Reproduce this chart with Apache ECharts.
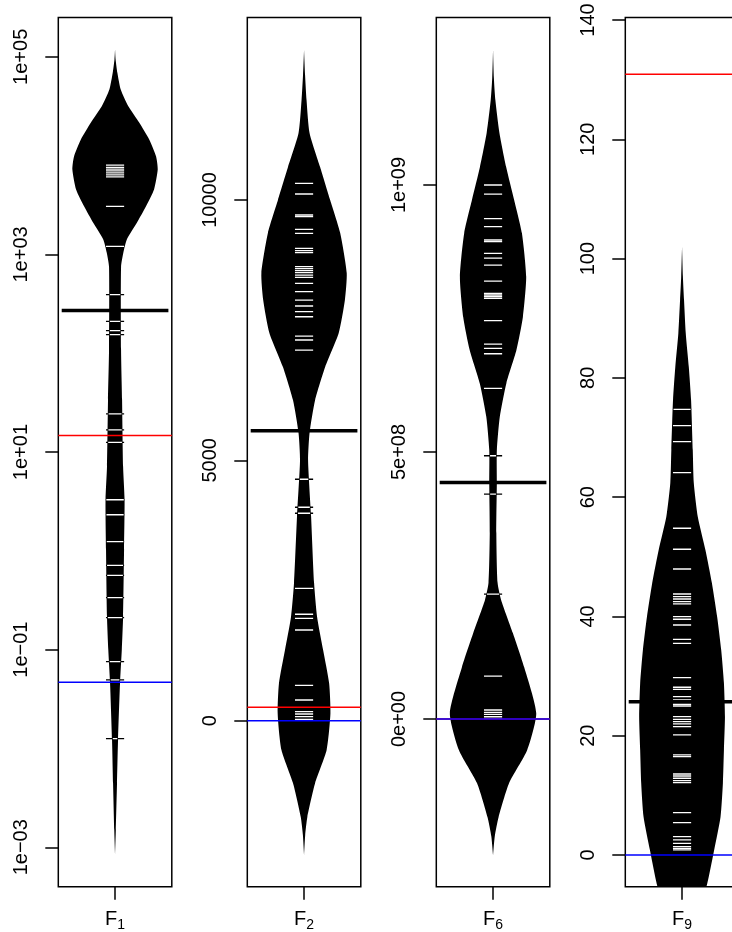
<!DOCTYPE html>
<html><head><meta charset="utf-8">
<script src="https://cdn.jsdelivr.net/npm/echarts@6/dist/echarts.min.js"></script>
<style>html,body{margin:0;padding:0;background:#fff}#c{width:732px;height:932px}</style>
</head><body><div id="c"></div><script>
// ---------- categories ----------
const categoryMain = ['F', 'F', 'F', 'F'];
const categorySub = ['1', '2', '6', '9'];

// ---------- F1 (log scale) ----------
// outline: [value, half-width of bean in box half-widths]
const f1Outline = [[118600,0],[94000,0.01],[68800,0.041],[46700,0.100],[31600,0.234],[21500,0.428],[14500,0.604],[9840,0.722],[7230,0.752],[4540,0.687],[3070,0.546],[2080,0.382],[1410,0.206],[1043,0.146],[752,0.106],[108,0.106],[33.8,0.124],[7.08,0.142],[3.29,0.168],[1.03,0.159],[0.215,0.142],[0.0995,0.119],[0.0461,0.088],[0.0122,0.053],[0.00448,0.035],[0.0015,0.014],[0.000836,0]];
const f1Values = [8000,7600,7300,7000,6700,6400,6100,3070,1208,392,210,169,154,24.3,16.8,12.5,3.29,2.32,1.24,0.714,0.565,0.337,0.211,0.0757,0.0494,0.0126];
const f1Mean = 270;
const f1Red = 14.7;
const f1Blue = 0.0469;
const f1Ticks = [1e-3, 1e-1, 1e1, 1e3, 1e5];
const f1TickLabels = ['1e\u221203', '1e\u221201', '1e+01', '1e+03', '1e+05'];
const f1Range = [3.99e-4, 2.5e5];

// ---------- F2 ----------
const f2Outline = [[12882,0],[12400,0.018],[11921,0.044],[11287,0.097],[10634,0.283],[10000,0.460],[9366,0.637],[8598,0.752],[8079,0.720],[7446,0.611],[6792,0.372],[6158,0.195],[5524,0.097],[5000,0.071],[3925,0.124],[2645,0.177],[1993,0.230],[1357,0.336],[718,0.442],[141,0.465],[-563,0.398],[-1197,0.195],[-1850,0.058],[-2200,0.02],[-2580,0]];
const f2Values = [10320,10115,9712,9680,9437,9360,9072,9026,8988,8719,8681,8642,8604,8559,8515,8400,8239,8079,7964,7855,7758,7387,7311,7118,4637,4099,3984,2543,2044,1967,1742,680,398,173,129,77,27];
const f2Mean = 5570;
const f2Red = 257;
const f2Blue = 0;
const f2Ticks = [0, 5000, 10000];
const f2TickLabels = ['0', '5000', '10000'];
const f2Range = [-3188, 13505];

// ---------- F6 ----------
const f6Outline = [[1.253e9,0],[1.2e9,0.015],[1.159e9,0.041],[1.098e9,0.112],[1.034e9,0.230],[9.72e8,0.372],[9.10e8,0.508],[8.28e8,0.584],[7.53e8,0.526],[6.91e8,0.412],[6.29e8,0.235],[5.66e8,0.119],[5.04e8,0.067],[4.42e8,0.067],[3.48e8,0.058],[2.55e8,0.080],[2.23e8,0.142],[1.61e8,0.349],[9.7e7,0.549],[1.1e7,0.761],[-5.8e7,0.602],[-1.2e8,0.283],[-1.84e8,0.097],[-2.2e8,0.03],[-2.55e8,0]];
const f6Values = [1.0e9,9.83e8,9.37e8,9.22e8,8.97e8,8.94e8,8.72e8,8.63e8,8.50e8,8.20e8,7.97e8,7.94e8,7.91e8,7.88e8,7.46e8,7.02e8,6.94e8,6.84e8,6.19e8,4.93e8,4.21e8,2.34e8,8.05e7,1.69e7,1.25e7,8.8e6,4.3e6,0.6e6];
const f6Mean = 4.43e8;
const f6Red = 0;
const f6Blue = 0;
const f6Ticks = [0, 5e8, 1e9];
const f6TickLabels = ['0e+00', '5e+08', '1e+09'];
const f6Range = [-3.14e8, 1.3137e9];

// ---------- F9 ----------
const f9Outline = [[102,0],[97,0.015],[93.06,0.035],[87.53,0.065],[81.82,0.119],[76.29,0.159],[67.91,0.189],[62.37,0.207],[56.67,0.278],[51.14,0.412],[45.61,0.526],[39.91,0.619],[34.37,0.690],[28.84,0.738],[23.14,0.756],[17.61,0.738],[12.07,0.720],[6.37,0.678],[0.84,0.566],[-5.37,0.430],[-8,0.3],[-11,0.12],[-13,0]];
const f9Values = [74.73,71.98,69.30,64.10,54.78,51.26,47.95,43.76,43.31,42.92,42.47,42.09,39.96,39.52,38.56,36.16,35.49,29.73,28.12,27.78,26.54,25.99,25.27,24.98,23.19,22.75,22.35,21.97,21.51,20.12,16.77,16.48,13.58,13.24,12.86,12.46,12.12,7.09,5.42,3.07,2.52,1.96,1.39,1.12,0.84];
const f9Mean = 25.7;
const f9Red = 130.9;
const f9Blue = 0;
const f9Ticks = [0, 20, 40, 60, 80, 100, 120, 140];
const f9TickLabels = ['0', '20', '40', '60', '80', '100', '120', '140'];
const f9Range = [-5.32, 140.42];

// ---------- assembly ----------
const panels = [
  {outline: f1Outline, values: f1Values, mean: f1Mean, red: f1Red, blue: f1Blue, ticks: f1Ticks, labels: f1TickLabels, range: f1Range, log: true},
  {outline: f2Outline, values: f2Values, mean: f2Mean, red: f2Red, blue: f2Blue, ticks: f2Ticks, labels: f2TickLabels, range: f2Range, log: false},
  {outline: f6Outline, values: f6Values, mean: f6Mean, red: f6Red, blue: f6Blue, ticks: f6Ticks, labels: f6TickLabels, range: f6Range, log: false},
  {outline: f9Outline, values: f9Values, mean: f9Mean, red: f9Red, blue: f9Blue, ticks: f9Ticks, labels: f9TickLabels, range: f9Range, log: false}
];

const FONT = '"Liberation Sans", Arial, Helvetica, sans-serif';
const gridLefts = [58.3, 247.3, 436.3, 625.3];
const GRID_W = 113.5, GRID_TOP = 17.5, GRID_H = 869.2;
const BEANLINE_HALF = 0.16;
const MEAN_HALF = 0.94;

function labelFor(p, val) {
  let best = 0, bd = Infinity;
  p.ticks.forEach((t, k) => {
    const d = p.log ? Math.abs(Math.log10(t) - Math.log10(val)) : Math.abs(t - val);
    if (d < bd) { bd = d; best = k; }
  });
  return p.labels[best];
}

function beanShape(outline) {
  return function (params, api) {
    const right = [], left = [];
    outline.forEach(o => {
      right.push(api.coord([o[1], o[0]]));
      left.push(api.coord([-o[1], o[0]]));
    });
    const pts = right.concat(left.reverse());
    return {type: 'polygon', shape: {points: pts, smooth: 0.2}, style: {fill: '#000', stroke: null}};
  };
}

function beanLines(outline) {
  return function (params, api) {
    const v = api.value(1);
    const c = api.coord([0, v]);
    const full = api.coord([BEANLINE_HALF, v])[0] - c[0];
    const pts = outline.map(o => api.coord([o[1], o[0]]));
    let w = 0;
    for (let k = 0; k < pts.length - 1; k++) {
      const a = pts[k], b = pts[k + 1];
      if ((c[1] - a[1]) * (c[1] - b[1]) <= 0 && a[1] !== b[1]) {
        const t = (c[1] - a[1]) / (b[1] - a[1]);
        w = a[0] + t * (b[0] - a[0]) - c[0];
        break;
      }
    }
    const wi = Math.max(0, Math.min(full, w - 0.8));
    return {type: 'group', children: [
      {type: 'line', shape: {x1: c[0] - full, y1: c[1], x2: c[0] + full, y2: c[1]}, style: {stroke: '#000', lineWidth: 1.3}},
      {type: 'line', shape: {x1: c[0] - wi, y1: c[1], x2: c[0] + wi, y2: c[1]}, style: {stroke: '#fff', lineWidth: 1.3}}
    ]};
  };
}

function hLine(half, color, width) {
  return function (params, api) {
    const v = api.value(1);
    const a = api.coord([-half, v]), b = api.coord([half, v]);
    return {type: 'line', shape: {x1: a[0], y1: a[1], x2: b[0], y2: b[1]}, style: {stroke: color, lineWidth: width}};
  };
}

const option = {animation: false, backgroundColor: '#fff', grid: [], xAxis: [], yAxis: [], series: []};

panels.forEach((p, i) => {
  option.grid.push({left: gridLefts[i], top: GRID_TOP, width: GRID_W, height: GRID_H, show: true,
    borderColor: '#000', borderWidth: 1.5, backgroundColor: 'transparent', containLabel: false, outerBoundsMode: 'none'});
  option.xAxis.push({gridIndex: i, type: 'value', min: -1, max: 1, position: 'bottom',
    axisLine: {show: false, onZero: false}, splitLine: {show: false},
    axisTick: {show: true, customValues: [0], length: 13, lineStyle: {color: '#000', width: 1.5}},
    axisLabel: {show: true, customValues: [0], margin: 21,
      formatter: () => '{m|' + categoryMain[i] + '}{s|' + categorySub[i] + '}',
      rich: {m: {fontSize: 20, fontFamily: FONT, color: '#000', lineHeight: 24},
             s: {fontSize: 14, fontFamily: FONT, color: '#000', lineHeight: 10, verticalAlign: 'bottom'}}}});
  option.yAxis.push({gridIndex: i, type: p.log ? 'log' : 'value', logBase: 10, min: p.range[0], max: p.range[1], position: 'left',
    axisLine: {show: false, onZero: false}, splitLine: {show: false}, minorTick: {show: false},
    axisTick: {show: true, customValues: p.ticks, length: 13, lineStyle: {color: '#000', width: 1.5}},
    axisLabel: {show: true, customValues: p.ticks, rotate: 90, margin: 27, fontSize: 20, fontFamily: FONT, color: '#000',
      formatter: (val) => labelFor(p, val)}});
  const base = {type: 'custom', xAxisIndex: i, yAxisIndex: i, silent: true, clip: true, coordinateSystem: 'cartesian2d'};
  option.series.push(Object.assign({}, base, {data: [[0, p.mean]], renderItem: beanShape(p.outline), z: 2}));
  option.series.push(Object.assign({}, base, {data: p.values.map(v => [0, v]), renderItem: beanLines(p.outline), z: 3}));
  option.series.push(Object.assign({}, base, {data: [[0, p.mean]], renderItem: hLine(MEAN_HALF, '#000', 3.5), z: 4}));
  option.series.push(Object.assign({}, base, {data: [[0, p.red]], renderItem: hLine(1, '#ff0000', 1.5), z: 5}));
  option.series.push(Object.assign({}, base, {data: [[0, p.blue]], renderItem: hLine(1, '#0000ff', 1.5), z: 6}));
});

const chart = echarts.init(document.getElementById('c'), null, {renderer: 'canvas'});
chart.setOption(option);
</script></body></html>
